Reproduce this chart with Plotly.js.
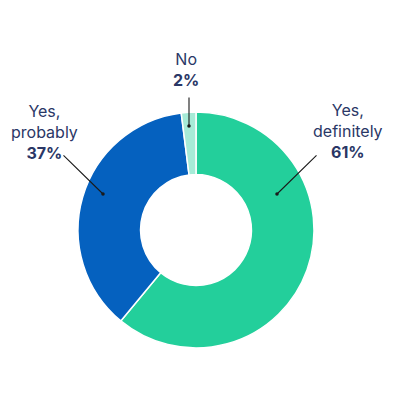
<!DOCTYPE html>
<html><head><meta charset="utf-8">
<script src="https://cdn.plot.ly/plotly-3.0.1.min.js"></script>
<style>html,body{margin:0;padding:0;background:#fff}#c{width:397px;height:397px}</style>
</head><body><div id="c"></div>
<script>
const labels = ["Yes, definitely", "Yes, probably", "No"];
const values = [61, 37, 2];
const labelLines = [["Yes,", "definitely"], ["Yes,", "probably"], ["No"]];
const colors = ["#23CF9B", "#0561BF", "#A6EBD7"];

const W = 397, H = 397;
const px = x => x / W, py = y => 1 - y / H;

// label text positions (pixels) and leader line endpoints
const textPos = [[348, 131], [44, 132], [186, 69]];
const lineFrom = [[318, 154], [62, 154], [189, 96]];
const lineTo = [[277, 194], [103, 194], [189, 126]];

const annotations = [];
labels.forEach((l, i) => {
  const txt = labelLines[i].join("<br>") + "<br><b>" + values[i] + "%</b>";
  annotations.push({
    x: px(textPos[i][0]), y: py(textPos[i][1]), xref: "paper", yref: "paper",
    text: txt, showarrow: false, align: "center",
    xanchor: "center", yanchor: "middle",
    font: {family: "Inter, sans-serif", size: 16, color: "#2A3766"}
  });
  annotations.push({
    x: px(lineTo[i][0]), y: py(lineTo[i][1]), xref: "paper", yref: "paper",
    ax: px(lineFrom[i][0]), ay: py(lineFrom[i][1]), axref: "paper", ayref: "paper",
    text: "", showarrow: true, arrowhead: 6, arrowsize: 0.8, arrowwidth: 1.1,
    arrowcolor: "#1a1a1a", standoff: 0, startstandoff: 0
  });
});

Plotly.newPlot("c", [{
  type: "pie", labels: labels, values: values, hole: 0.47,
  sort: false, direction: "clockwise", rotation: 0,
  marker: {colors: colors, line: {color: "#ffffff", width: 1.5}},
  textinfo: "none", hoverinfo: "none",
  domain: {x: [78 / W, 314 / W], y: [49 / H, 285 / H]}
}], {
  width: W, height: H, showlegend: false,
  margin: {l: 0, r: 0, t: 0, b: 0},
  paper_bgcolor: "#fff", plot_bgcolor: "#fff",
  annotations: annotations
}, {staticPlot: true});
</script></body></html>
